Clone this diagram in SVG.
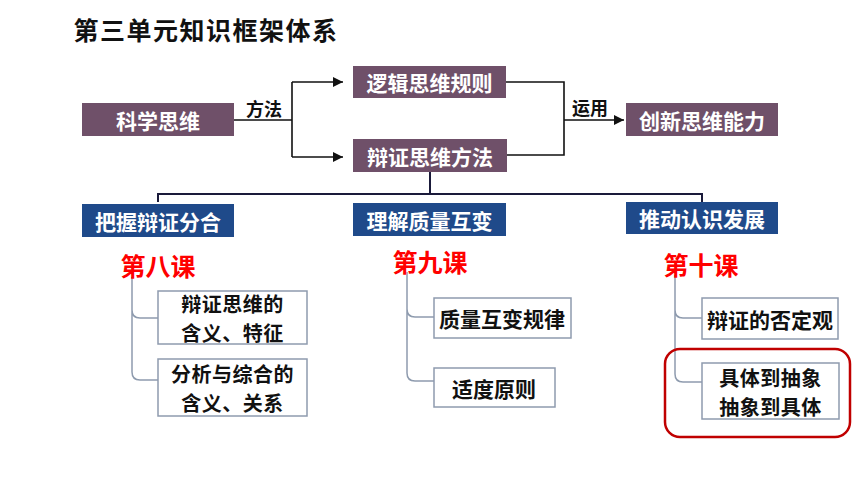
<svg xmlns="http://www.w3.org/2000/svg" width="860" height="484" viewBox="0 0 860 484">
<defs>
<marker id="ah" viewBox="0 0 10 10" refX="10" refY="5" markerWidth="10" markerHeight="10" markerUnits="userSpaceOnUse" orient="auto"><path d="M0,0 L10,5 L0,10 z" fill="#111"/></marker>
<style>
text{font-family:"Noto Sans CJK SC","Noto Sans",sans-serif;font-weight:700;text-anchor:middle;dominant-baseline:central}
.m{fill:#6F5069}
.b{fill:#1F4A8A}
.w{fill:#fff;font-size:21px}
.k{fill:#111;font-size:21px}
.k2{fill:#111;font-size:20px;letter-spacing:0.5px}
.r{fill:#FF0000;font-size:25px}
.lb{fill:#111;font-size:18px}
.bx{fill:#fff;stroke:#8E9BAE;stroke-width:1.5}
.tr{fill:none;stroke:#8E9BAE;stroke-width:1.5}
.ar{fill:none;stroke:#111;stroke-width:1.6}
</style>
</defs>
<rect width="860" height="484" fill="#fff"/>
<text x="206" y="29" style="font-size:25px;letter-spacing:1.5px;fill:#111">第三单元知识框架体系</text>

<g id="connectors">
<path class="ar" d="M234,120 H292 M292,82 V157"/>
<path class="ar" d="M292,82 H343" marker-end="url(#ah)"/>
<path class="ar" d="M292,157 H343" marker-end="url(#ah)"/>
<path class="ar" d="M506,82 H564 V155 H507 M564,120 H624" marker-end="url(#ah)"/>
<path d="M430,172 V194 M158,202 V194 H702 V202" fill="none" stroke="#1A1A3A" stroke-width="2"/>
<path class="tr" d="M132,277 V310 Q132,318 140,318 H158 M132,310 V372 Q132,380 140,380 H158"/>
<path class="tr" d="M407,272 V309 Q407,317 415,317 H434 M407,309 V373 Q407,381 415,381 H434"/>
<path class="tr" d="M675,275 V310 Q675,318 683,318 H702 M675,310 V374 Q675,382 683,382 H702"/>
</g>
<text class="lb" x="264" y="108">方法</text>
<text class="lb" x="590" y="107">运用</text>

<g id="n-kexue"><rect class="m" x="82" y="103" width="152" height="33"/><text class="w" x="158" y="119.5">科学思维</text></g>
<g id="n-luoji"><rect class="m" x="353" y="66" width="153" height="32"/><text class="w" x="429.5" y="82">逻辑思维规则</text></g>
<g id="n-bianzheng"><rect class="m" x="353" y="139" width="154" height="33"/><text class="w" x="430" y="155.5">辩证思维方法</text></g>
<g id="n-chuangxin"><rect class="m" x="626" y="103" width="152" height="33"/><text class="w" x="702" y="119.5">创新思维能力</text></g>

<g id="n-bawo"><rect class="b" x="82" y="204" width="152" height="33"/><text class="w" x="158" y="220.5">把握辩证分合</text></g>
<g id="n-lijie"><rect class="b" x="353" y="203" width="153" height="33"/><text class="w" x="429.5" y="219.5">理解质量互变</text></g>
<g id="n-tuidong"><rect class="b" x="626" y="202" width="152" height="32"/><text class="w" x="702" y="218">推动认识发展</text></g>

<g id="n-l8"><text class="r" x="158" y="265">第八课</text></g>
<g id="n-l9"><text class="r" x="430" y="261">第九课</text></g>
<g id="n-l10"><text class="r" x="701" y="264">第十课</text></g>

<g id="n-b1"><rect class="bx" x="158" y="291" width="149" height="53"/><text class="k2" x="232.5" y="303">辩证思维的<tspan x="232.5" y="332">含义、特征</tspan></text></g>
<g id="n-b2"><rect class="bx" x="158" y="359" width="149" height="57"/><text class="k2" x="232.5" y="373">分析与综合的<tspan x="232.5" y="402">含义、关系</tspan></text></g>
<g id="n-b3"><rect class="bx" x="434" y="298" width="137" height="40"/><text class="k" x="502" y="318">质量互变规律</text></g>
<g id="n-b4"><rect class="bx" x="434" y="368" width="121" height="39"/><text class="k" x="494" y="387.5">适度原则</text></g>
<g id="n-b5"><rect class="bx" x="702" y="298" width="136" height="41"/><text class="k" x="770" y="318.5">辩证的否定观</text></g>
<g id="n-b6"><rect class="bx" x="702" y="363" width="137" height="56"/><text class="k2" x="770.5" y="377">具体到抽象<tspan x="770.5" y="406">抽象到具体</tspan></text></g>
<rect x="665" y="349" width="185" height="88" rx="15" fill="none" stroke="#C00000" stroke-width="2.5"/>
</svg>
